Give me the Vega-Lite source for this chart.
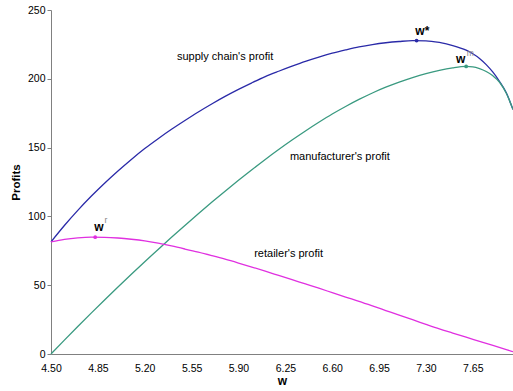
{
  "$schema": "https://vega.github.io/schema/vega-lite/v6.json",
  "width": 462,
  "height": 344,
  "autosize": {"type": "none"},
  "padding": {"left": 51, "top": 10, "right": 0, "bottom": 37},
  "background": "white",
  "config": {
    "view": {"stroke": null},
    "font": "Liberation Sans",
    "axis": {"labelFont": "Liberation Sans", "titleFont": "Liberation Sans", "domainColor": "#808080", "tickColor": "#808080", "labelColor": "#000000", "titleColor": "#000000", "grid": false}
  },
  "datasets": {
    "curves": [
      {"w": 4.5, "series": "supply", "profit": 81.5}, {"w": 4.6, "series": "supply", "profit": 93.4}, {"w": 4.7, "series": "supply", "profit": 104.4}, {"w": 4.8, "series": "supply", "profit": 114.6}, {"w": 4.9, "series": "supply", "profit": 124.1}, {"w": 5.0, "series": "supply", "profit": 133.0}, {"w": 5.1, "series": "supply", "profit": 141.4}, {"w": 5.2, "series": "supply", "profit": 149.3}, {"w": 5.3, "series": "supply", "profit": 156.5}, {"w": 5.4, "series": "supply", "profit": 163.3}, {"w": 5.5, "series": "supply", "profit": 169.7}, {"w": 5.6, "series": "supply", "profit": 175.9}, {"w": 5.7, "series": "supply", "profit": 181.7}, {"w": 5.8, "series": "supply", "profit": 187.2}, {"w": 5.9, "series": "supply", "profit": 192.3}, {"w": 6.0, "series": "supply", "profit": 197.1}, {"w": 6.1, "series": "supply", "profit": 201.6}, {"w": 6.2, "series": "supply", "profit": 205.5}, {"w": 6.3, "series": "supply", "profit": 209.2}, {"w": 6.4, "series": "supply", "profit": 212.7}, {"w": 6.5, "series": "supply", "profit": 215.8}, {"w": 6.6, "series": "supply", "profit": 218.6}, {"w": 6.7, "series": "supply", "profit": 221.0}, {"w": 6.8, "series": "supply", "profit": 223.2}, {"w": 6.9, "series": "supply", "profit": 224.9}, {"w": 7.0, "series": "supply", "profit": 226.2}, {"w": 7.1, "series": "supply", "profit": 227.1}, {"w": 7.2, "series": "supply", "profit": 227.7}, {"w": 7.3, "series": "supply", "profit": 227.6}, {"w": 7.4, "series": "supply", "profit": 226.4}, {"w": 7.5, "series": "supply", "profit": 224.2}, {"w": 7.6, "series": "supply", "profit": 220.8}, {"w": 7.65, "series": "supply", "profit": 218.2}, {"w": 7.7, "series": "supply", "profit": 214.8}, {"w": 7.75, "series": "supply", "profit": 210.3}, {"w": 7.8, "series": "supply", "profit": 204.8}, {"w": 7.85, "series": "supply", "profit": 198.0}, {"w": 7.9, "series": "supply", "profit": 189.8}, {"w": 7.95, "series": "supply", "profit": 177.6},
      {"w": 4.5, "series": "manufacturer", "profit": 0}, {"w": 4.6, "series": "manufacturer", "profit": 10.1}, {"w": 4.7, "series": "manufacturer", "profit": 20.0}, {"w": 4.8, "series": "manufacturer", "profit": 29.7}, {"w": 4.9, "series": "manufacturer", "profit": 39.3}, {"w": 5.0, "series": "manufacturer", "profit": 48.7}, {"w": 5.1, "series": "manufacturer", "profit": 58.0}, {"w": 5.2, "series": "manufacturer", "profit": 67.1}, {"w": 5.3, "series": "manufacturer", "profit": 76.0}, {"w": 5.4, "series": "manufacturer", "profit": 84.8}, {"w": 5.5, "series": "manufacturer", "profit": 93.4}, {"w": 5.6, "series": "manufacturer", "profit": 101.9}, {"w": 5.7, "series": "manufacturer", "profit": 110.2}, {"w": 5.8, "series": "manufacturer", "profit": 118.3}, {"w": 5.9, "series": "manufacturer", "profit": 126.2}, {"w": 6.0, "series": "manufacturer", "profit": 133.9}, {"w": 6.1, "series": "manufacturer", "profit": 141.4}, {"w": 6.2, "series": "manufacturer", "profit": 148.6}, {"w": 6.3, "series": "manufacturer", "profit": 155.5}, {"w": 6.4, "series": "manufacturer", "profit": 162.1}, {"w": 6.5, "series": "manufacturer", "profit": 168.4}, {"w": 6.6, "series": "manufacturer", "profit": 174.4}, {"w": 6.7, "series": "manufacturer", "profit": 179.9}, {"w": 6.8, "series": "manufacturer", "profit": 185.0}, {"w": 6.9, "series": "manufacturer", "profit": 189.7}, {"w": 7.0, "series": "manufacturer", "profit": 193.9}, {"w": 7.1, "series": "manufacturer", "profit": 197.6}, {"w": 7.2, "series": "manufacturer", "profit": 200.9}, {"w": 7.3, "series": "manufacturer", "profit": 203.8}, {"w": 7.4, "series": "manufacturer", "profit": 206.2}, {"w": 7.5, "series": "manufacturer", "profit": 208.0}, {"w": 7.6, "series": "manufacturer", "profit": 209.0}, {"w": 7.65, "series": "manufacturer", "profit": 208.7}, {"w": 7.7, "series": "manufacturer", "profit": 207.4}, {"w": 7.75, "series": "manufacturer", "profit": 205.3}, {"w": 7.8, "series": "manufacturer", "profit": 202.2}, {"w": 7.85, "series": "manufacturer", "profit": 197.5}, {"w": 7.9, "series": "manufacturer", "profit": 189.5}, {"w": 7.95, "series": "manufacturer", "profit": 177.6},
      {"w": 4.5, "series": "retailer", "profit": 81.5}, {"w": 4.6, "series": "retailer", "profit": 83.3}, {"w": 4.7, "series": "retailer", "profit": 84.4}, {"w": 4.8, "series": "retailer", "profit": 84.9}, {"w": 4.9, "series": "retailer", "profit": 84.8}, {"w": 5.0, "series": "retailer", "profit": 84.3}, {"w": 5.1, "series": "retailer", "profit": 83.4}, {"w": 5.2, "series": "retailer", "profit": 82.2}, {"w": 5.3, "series": "retailer", "profit": 80.5}, {"w": 5.4, "series": "retailer", "profit": 78.5}, {"w": 5.5, "series": "retailer", "profit": 76.3}, {"w": 5.6, "series": "retailer", "profit": 74.0}, {"w": 5.7, "series": "retailer", "profit": 71.5}, {"w": 5.8, "series": "retailer", "profit": 68.9}, {"w": 5.9, "series": "retailer", "profit": 66.1}, {"w": 6.0, "series": "retailer", "profit": 63.2}, {"w": 6.1, "series": "retailer", "profit": 60.2}, {"w": 6.2, "series": "retailer", "profit": 57.1}, {"w": 6.3, "series": "retailer", "profit": 54.0}, {"w": 6.4, "series": "retailer", "profit": 50.9}, {"w": 6.5, "series": "retailer", "profit": 47.8}, {"w": 6.6, "series": "retailer", "profit": 44.6}, {"w": 6.7, "series": "retailer", "profit": 41.4}, {"w": 6.8, "series": "retailer", "profit": 38.3}, {"w": 6.9, "series": "retailer", "profit": 35.0}, {"w": 7.0, "series": "retailer", "profit": 31.6}, {"w": 7.1, "series": "retailer", "profit": 28.2}, {"w": 7.2, "series": "retailer", "profit": 24.9}, {"w": 7.3, "series": "retailer", "profit": 21.5}, {"w": 7.4, "series": "retailer", "profit": 18.2}, {"w": 7.5, "series": "retailer", "profit": 15.2}, {"w": 7.6, "series": "retailer", "profit": 12.2}, {"w": 7.7, "series": "retailer", "profit": 9.2}, {"w": 7.8, "series": "retailer", "profit": 6.2}, {"w": 7.9, "series": "retailer", "profit": 3.2}, {"w": 7.95, "series": "retailer", "profit": 1.7}
    ],
    "optima": [
      {"w": 7.23, "series": "supply", "profit": 227.8},
      {"w": 7.6, "series": "manufacturer", "profit": 209.0},
      {"w": 4.83, "series": "retailer", "profit": 84.9}
    ],
    "labels": [
      {"w": 5.80, "profit": 216, "label": "supply chain's profit"},
      {"w": 6.657, "profit": 143.4, "label": "manufacturer's profit"},
      {"w": 6.274, "profit": 72.8, "label": "retailer's profit"}
    ],
    "wlabels": [
      {"w": 7.273, "profit": 234.6, "label": "w*"},
      {"w": 7.56, "profit": 214.5, "label": "w"},
      {"w": 4.858, "profit": 92.6, "label": "w"}
    ],
    "sups": [
      {"w": 7.632, "profit": 219.0, "label": "m"},
      {"w": 4.91, "profit": 97.2, "label": "r"}
    ]
  },
  "layer": [
    {
      "mark": {"type": "rule", "color": "#808080", "strokeWidth": 1},
      "encoding": {"y": {"datum": 250, "type": "quantitative", "scale": {"domain": [0, 250]}}}
    },
    {
      "data": {"name": "curves"},
      "mark": {"type": "line", "interpolate": "monotone", "strokeWidth": 1.3},
      "encoding": {
        "x": {"field": "w", "type": "quantitative", "scale": {"domain": [4.5, 7.95], "nice": false, "zero": false},
              "axis": {"title": "w", "titleFontSize": 12, "titleFontWeight": "bold", "titlePadding": 2, "values": [4.5, 4.85, 5.2, 5.55, 5.9, 6.25, 6.6, 6.95, 7.3, 7.65], "format": ".2f", "labelFontSize": 10.5, "tickSize": 0, "labelPadding": 9, "labelFlush": false}},
        "y": {"field": "profit", "type": "quantitative", "scale": {"domain": [0, 250], "nice": false},
              "axis": {"title": "Profits", "titleFontSize": 11.5, "titleFontWeight": "bold", "titlePadding": 6, "values": [0, 50, 100, 150, 200, 250], "labelFontSize": 10.5, "tickSize": 4, "labelPadding": 2}},
        "color": {"field": "series", "type": "nominal", "scale": {"domain": ["supply", "manufacturer", "retailer"], "range": ["#2a2aa8", "#3a9a80", "#e030e0"]}, "legend": null}
      }
    },
    {
      "data": {"name": "optima"},
      "mark": {"type": "point", "filled": true, "size": 14, "opacity": 1},
      "encoding": {
        "x": {"field": "w", "type": "quantitative"},
        "y": {"field": "profit", "type": "quantitative"},
        "color": {"field": "series", "type": "nominal", "scale": {"domain": ["supply", "manufacturer", "retailer"], "range": ["#2a2aa8", "#2a9a3a", "#e020e0"]}, "legend": null}
      }
    },
    {
      "data": {"name": "labels"},
      "mark": {"type": "text", "fontSize": 11, "color": "#000000", "align": "center", "baseline": "middle", "font": "Liberation Sans"},
      "encoding": {
        "x": {"field": "w", "type": "quantitative"},
        "y": {"field": "profit", "type": "quantitative"},
        "text": {"field": "label"}
      }
    },
    {
      "data": {"name": "wlabels"},
      "mark": {"type": "text", "fontSize": 12, "fontWeight": "bold", "color": "#000000", "align": "center", "baseline": "middle", "font": "Liberation Sans"},
      "encoding": {
        "x": {"field": "w", "type": "quantitative"},
        "y": {"field": "profit", "type": "quantitative"},
        "text": {"field": "label"}
      }
    },
    {
      "data": {"name": "sups"},
      "mark": {"type": "text", "fontSize": 8.5, "color": "#888888", "align": "center", "baseline": "middle", "font": "Liberation Sans"},
      "encoding": {
        "x": {"field": "w", "type": "quantitative"},
        "y": {"field": "profit", "type": "quantitative"},
        "text": {"field": "label"}
      }
    }
  ]
}
